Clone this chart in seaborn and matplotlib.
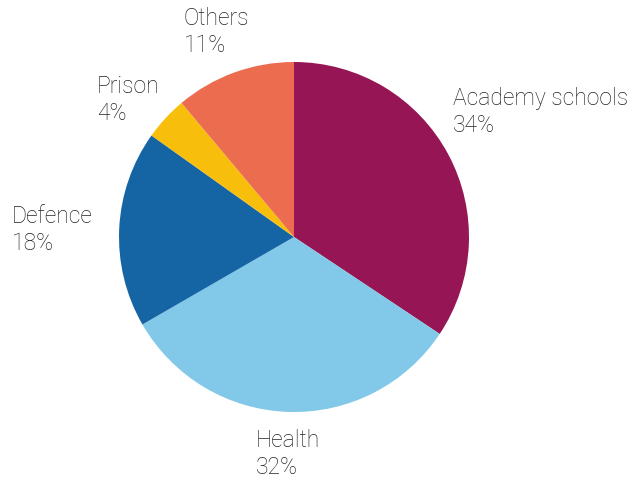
import matplotlib
matplotlib.use("Agg")
import matplotlib.pyplot as plt
import seaborn as sns

sns.set_theme(style="white")
plt.rcParams['font.family'] = ['Roboto', 'DejaVu Sans']

categories = ["Academy schools", "Health", "Defence", "Prison", "Others"]
values = [34, 32, 18, 4, 11]
pct_labels = ["34%", "32%", "18%", "4%", "11%"]
colors = ["#961655", "#82C8E8", "#1565A5", "#F8BE0C", "#EB6C4E"]

# label anchor positions (left edge, vertical centre) in data units of the unit-radius pie
label_pos = [(0.909, 0.714), (-0.217, -1.24), (-1.611, 0.04), (-1.126, 0.783), (-0.629, 1.171)]

W, H = 632, 479
fig = plt.figure(figsize=(W / 100, H / 100), dpi=100)
cx, cy, r = 294, 237, 175
ax = fig.add_axes([(cx - r) / W, (H - cy - r) / H, 2 * r / W, 2 * r / H])
ax.pie(values, colors=colors, startangle=90, counterclock=False,
       wedgeprops=dict(linewidth=0), radius=1)
ax.set_xlim(-1, 1)
ax.set_ylim(-1, 1)
ax.set_aspect('equal')
ax.axis('off')

for cat, pct, (x, y) in zip(categories, pct_labels, label_pos):
    ax.text(x, y, f"{cat}\n{pct}", ha='left', va='center', fontsize=16.5,
            fontweight='light', color='#222222', linespacing=1.2, clip_on=False)

fig.savefig("out.png", dpi=100)
